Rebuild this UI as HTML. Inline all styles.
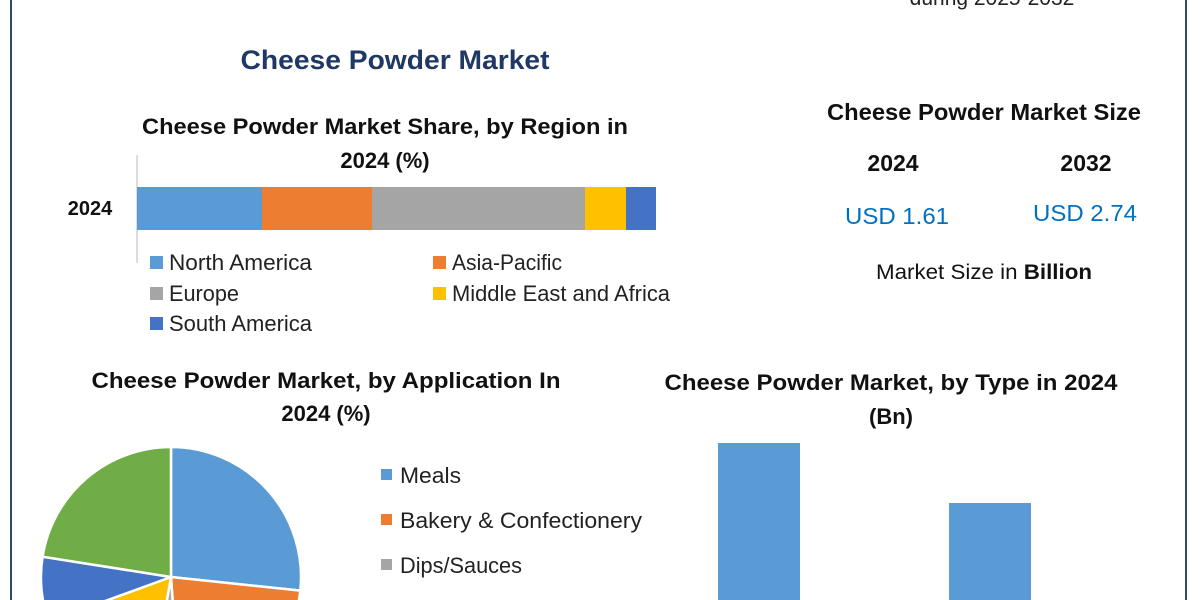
<!DOCTYPE html>
<html><head><meta charset="utf-8"><style>
html,body{margin:0;padding:0;background:#fff;width:1200px;height:600px;overflow:hidden;}
svg{display:block;font-family:"Liberation Sans",sans-serif;}
</style></head><body>
<svg width="1200" height="600" viewBox="0 0 1200 600" xmlns="http://www.w3.org/2000/svg" overflow="hidden">
<defs><clipPath id="c"><rect x="0" y="0" width="1200" height="600"/></clipPath></defs>
<rect width="1200" height="600" fill="#fff"/>
<line x1="11" y1="0" x2="11" y2="600" stroke="#2e4a66" stroke-width="2"/>
<line x1="1186" y1="0" x2="1186" y2="600" stroke="#2e4a66" stroke-width="2"/>
<text x="992" y="5" text-anchor="middle" font-size="21" fill="#222">during 2025-2032</text>
<text x="395" y="69" text-anchor="middle" font-size="27" font-weight="bold" fill="#1f3864" textLength="309" lengthAdjust="spacingAndGlyphs">Cheese Powder Market</text>
<text x="385" y="134" text-anchor="middle" font-size="22" font-weight="bold" fill="#111" textLength="486" lengthAdjust="spacingAndGlyphs">Cheese Powder Market Share, by Region in</text>
<text x="385" y="168" text-anchor="middle" font-size="22" font-weight="bold" fill="#111">2024 (%)</text>
<text x="90" y="215" text-anchor="middle" font-size="20" font-weight="bold" fill="#111">2024</text>
<line x1="137" y1="155" x2="137" y2="263" stroke="#d0d0d0" stroke-width="1.5"/>
<rect x="137" y="187" width="125" height="43" fill="#5b9bd5"/>
<rect x="262" y="187" width="110" height="43" fill="#ed7d31"/>
<rect x="372" y="187" width="213" height="43" fill="#a5a5a5"/>
<rect x="585" y="187" width="41" height="43" fill="#ffc000"/>
<rect x="626" y="187" width="30" height="43" fill="#4472c4"/>
<g font-size="22" fill="#222">
<rect x="150" y="256" width="13" height="13" fill="#5b9bd5"/><text x="169" y="270" textLength="143" lengthAdjust="spacingAndGlyphs">North America</text>
<rect x="433" y="256" width="13" height="13" fill="#ed7d31"/><text x="452" y="270" textLength="110" lengthAdjust="spacingAndGlyphs">Asia-Pacific</text>
<rect x="150" y="287" width="13" height="13" fill="#a5a5a5"/><text x="169" y="301" textLength="70" lengthAdjust="spacingAndGlyphs">Europe</text>
<rect x="433" y="287" width="13" height="13" fill="#ffc000"/><text x="452" y="301" textLength="218" lengthAdjust="spacingAndGlyphs">Middle East and Africa</text>
<rect x="150" y="317" width="13" height="13" fill="#4472c4"/><text x="169" y="331" textLength="143" lengthAdjust="spacingAndGlyphs">South America</text>
</g>
<text x="984" y="120" text-anchor="middle" font-size="23" font-weight="bold" fill="#111" textLength="314" lengthAdjust="spacingAndGlyphs">Cheese Powder Market Size</text>
<text x="893" y="171" text-anchor="middle" font-size="23" font-weight="bold" fill="#111">2024</text>
<text x="1086" y="171" text-anchor="middle" font-size="23" font-weight="bold" fill="#111">2032</text>
<text x="897" y="224" text-anchor="middle" font-size="23" fill="#0070c0" textLength="104" lengthAdjust="spacingAndGlyphs">USD 1.61</text>
<text x="1085" y="221" text-anchor="middle" font-size="23" fill="#0070c0" textLength="104" lengthAdjust="spacingAndGlyphs">USD 2.74</text>
<text x="984" y="279" text-anchor="middle" font-size="21" fill="#111" textLength="216" lengthAdjust="spacingAndGlyphs">Market Size in <tspan font-weight="bold">Billion</tspan></text>
<text x="326" y="388" text-anchor="middle" font-size="22" font-weight="bold" fill="#111" textLength="469" lengthAdjust="spacingAndGlyphs">Cheese Powder Market, by Application In</text>
<text x="326" y="421" text-anchor="middle" font-size="22" font-weight="bold" fill="#111">2024 (%)</text>
<g stroke="#fff" stroke-width="2.5" clip-path="url(#c)">
<path d="M171,577 L171,447 A130,130 0 0 1 300.3,590.6 Z" fill="#5b9bd5"/>
<path d="M171,577 L300.3,590.6 A130,130 0 0 1 180.1,706.7 Z" fill="#ed7d31"/>
<path d="M171,577 L180.1,706.7 A130,130 0 0 1 148.4,705 Z" fill="#a5a5a5"/>
<path d="M171,577 L148.4,705 A130,130 0 0 1 48.8,621.5 Z" fill="#ffc000"/>
<path d="M171,577 L48.8,621.5 A130,130 0 0 1 42.6,556.7 Z" fill="#4472c4"/>
<path d="M171,577 L42.6,556.7 A130,130 0 0 1 171,447 Z" fill="#70ad47"/>
</g>
<g font-size="22" fill="#222">
<rect x="381" y="469" width="11" height="11" fill="#5b9bd5"/><text x="400" y="483" textLength="61" lengthAdjust="spacingAndGlyphs">Meals</text>
<rect x="381" y="514" width="11" height="11" fill="#ed7d31"/><text x="400" y="528" textLength="242" lengthAdjust="spacingAndGlyphs">Bakery &amp; Confectionery</text>
<rect x="381" y="559" width="11" height="11" fill="#a5a5a5"/><text x="400" y="573" textLength="122" lengthAdjust="spacingAndGlyphs">Dips/Sauces</text>
</g>
<text x="891" y="390" text-anchor="middle" font-size="22" font-weight="bold" fill="#111" textLength="453" lengthAdjust="spacingAndGlyphs">Cheese Powder Market, by Type in 2024</text>
<text x="891" y="424" text-anchor="middle" font-size="22" font-weight="bold" fill="#111">(Bn)</text>
<rect x="718" y="443" width="82" height="157" fill="#5b9bd5"/>
<rect x="949" y="503" width="82" height="97" fill="#5b9bd5"/>
</svg>
</body></html>
